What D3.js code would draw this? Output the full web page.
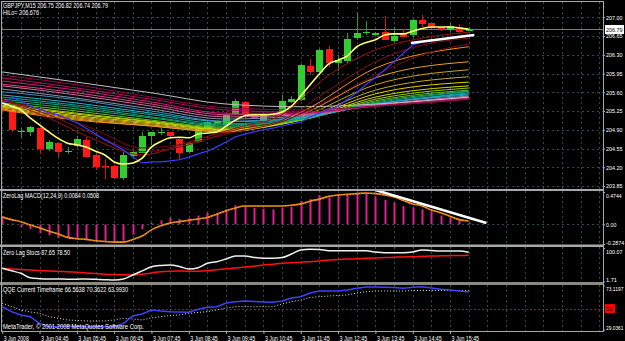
<!DOCTYPE html>
<html>
<head>
<meta charset="utf-8">
<script src="https://cdn.jsdelivr.net/npm/d3@7"></script>
<style>
  body { margin: 0; background: #000; }
  svg { display: block; }
  text { font-family: "Liberation Sans", Arial, sans-serif; font-size: 7px; fill: #fff; }
</style>
</head>
<body>
<script>
// ---- data (bar 0 = 3 Jun 03:45, M15 bars) ----
var open  = [205.40,205.26,204.86,204.86,204.94,204.54,204.66,204.49,204.60,204.71,204.43,204.23,204.22,203.99,204.41,204.47,204.78,204.85,204.85,204.72,204.48,204.67,204.93,205.02,204.99,205.19,205.42,205.18,205.06,205.17,205.19,205.42,205.46,206.10,205.98,206.41,206.15,206.17,206.62,206.71,206.66,206.73,206.56,206.70,206.67,206.95,206.89,206.81,206.76,206.82,206.75];
var high  = [205.45,205.31,204.93,204.97,204.96,204.70,204.68,204.58,204.78,204.77,204.44,204.35,204.24,204.49,204.50,204.85,204.86,204.93,204.86,204.74,204.67,204.95,205.08,205.08,205.20,205.47,205.44,205.20,205.20,205.21,205.55,205.53,206.13,206.22,206.41,206.46,206.30,206.71,207.09,206.94,206.72,207.02,206.82,206.79,206.96,207.04,206.90,206.82,206.89,206.87,206.82];
var low   = [205.25,204.86,204.75,204.78,204.45,204.50,204.40,204.45,204.58,204.39,204.14,203.98,203.98,203.97,204.40,204.46,204.62,204.80,204.76,204.34,204.46,204.66,204.90,205.00,204.97,205.17,205.17,205.10,205.04,205.15,205.17,205.40,205.44,205.92,205.96,206.08,205.99,206.15,206.58,206.67,206.65,206.57,206.54,206.61,206.64,206.82,206.78,206.74,206.73,206.70,206.74];
var close = [205.28,204.88,204.87,204.95,204.54,204.68,204.49,204.50,204.73,204.40,204.20,204.21,203.99,204.42,204.49,204.79,204.85,204.86,204.77,204.46,204.65,204.93,205.05,205.06,205.18,205.44,205.19,205.12,205.18,205.19,205.44,205.47,206.11,205.98,206.39,206.15,206.20,206.59,206.71,206.72,206.70,206.58,206.65,206.63,206.95,206.87,206.79,206.75,206.84,206.73,206.79];

var maYellow = [205.40,205.34,205.27,205.12,204.99,204.86,204.74,204.65,204.62,204.58,204.50,204.43,204.30,204.26,204.28,204.37,204.58,204.68,204.75,204.76,204.75,204.82,204.84,204.86,204.97,205.08,205.16,205.18,205.18,205.19,205.23,205.34,205.53,205.74,205.94,206.13,206.20,206.28,206.45,206.53,206.58,206.67,206.69,206.69,206.74,206.79,206.82,206.82,206.82,206.80,206.78];
var maBlue   = [205.36,205.51,205.44,205.34,205.29,205.21,205.18,205.10,205.03,204.93,204.82,204.71,204.62,204.52,204.39,204.28,204.30,204.30,204.32,204.34,204.39,204.45,204.50,204.58,204.67,204.77,204.82,204.86,204.90,204.93,204.97,205.01,205.04,205.14,205.21,205.27,205.34,205.47,205.59,205.75,205.87,206.02,206.17,206.33,206.48,206.54,206.58,206.59,206.63,206.65,206.67];

// dark red averages, one value every 5 bars
var maRedA = [205.46,205.12,204.71,204.43,204.67,204.93,205.18,205.92,206.39,206.61,206.72];
var maRedB = [205.46,205.18,204.80,204.49,204.62,204.90,205.08,205.64,206.17,206.48,206.61];
var maRedC = [205.46,205.23,204.90,204.56,204.65,204.86,205.05,205.46,205.92,206.30,206.50];

// rainbow ribbon, fast -> slow, values at bars 0,8,16,24,32,40,50
var ribbonBars = [0, 8, 16, 24, 32, 40, 50];
var ribbon = [
  [205.27,205.08,204.97,204.86,205.23,206.05,206.45],
  [205.29,205.10,204.97,204.86,205.18,205.87,206.17],
  [205.31,205.12,204.99,204.88,205.14,205.74,206.02],
  [205.33,205.14,205.01,204.88,205.10,205.64,205.89],
  [205.34,205.16,205.03,204.90,205.08,205.57,205.79],
  [205.36,205.19,205.05,204.91,205.08,205.51,205.72],
  [205.38,205.21,205.06,204.93,205.08,205.47,205.68],
  [205.40,205.25,205.08,204.95,205.08,205.44,205.64],
  [205.44,205.29,205.12,204.97,205.10,205.42,205.62],
  [205.47,205.33,205.14,204.99,205.10,205.40,205.61],
  [205.51,205.36,205.18,205.01,205.12,205.38,205.59],
  [205.55,205.40,205.21,205.05,205.12,205.38,205.57],
  [205.61,205.46,205.25,205.06,205.14,205.38,205.55],
  [205.66,205.49,205.29,205.10,205.16,205.36,205.53],
  [205.72,205.55,205.34,205.14,205.18,205.36,205.51],
  [205.75,205.59,205.38,205.18,205.19,205.36,205.51],
  [205.81,205.64,205.42,205.21,205.21,205.34,205.49],
  [205.87,205.68,205.47,205.27,205.23,205.34,205.47],
  [205.92,205.74,205.51,205.31,205.27,205.34,205.47],
  [205.98,205.79,205.59,205.38,205.33,205.38,205.51]
];
var ribbonColors = ["#ff8c00","#e8a020","#d4a017","#c8a832","#e6d200","#d0e000","#a0d000","#60c030",
                    "#20b050","#10a080","#10a0a0","#20b8c8","#4090c0","#9090b0","#d070a0","#e04090",
                    "#d02070","#b01060","#900848","#c0c0c0"];

var macdHist   = [0.10,0.01,-0.04,-0.07,-0.13,-0.16,-0.20,-0.20,-0.22,-0.22,-0.24,-0.24,-0.26,-0.24,-0.15,-0.07,0.02,0.06,0.10,0.08,0.09,0.13,0.17,0.17,0.22,0.28,0.26,0.24,0.23,0.22,0.24,0.26,0.34,0.37,0.43,0.39,0.43,0.44,0.46,0.46,0.41,0.36,0.32,0.27,0.25,0.22,0.19,0.13,0.10,0.06,0.02];
var macdSignal = [0.11,0.07,0.04,-0.01,-0.05,-0.10,-0.14,-0.19,-0.21,-0.22,-0.24,-0.25,-0.26,-0.26,-0.22,-0.17,-0.08,-0.02,0.02,0.04,0.06,0.08,0.10,0.15,0.20,0.24,0.27,0.27,0.27,0.27,0.27,0.28,0.30,0.34,0.37,0.41,0.43,0.44,0.45,0.46,0.45,0.43,0.40,0.35,0.30,0.27,0.21,0.17,0.12,0.07,0.05];

var stochMain   = [40.5,33,25.8,12.9,10,9,9,8.5,8.5,9,8,7,6.1,9,20.8,33,45.2,49,50.2,46,38.4,42,55.1,59.8,67.8,76.6,76.6,72.2,69.8,69.8,72,82.4,94.2,96.2,95.7,92.1,92.1,92.1,92.1,92.1,88.3,86.3,86.3,86.3,88.3,94.2,92.7,91.3,91.3,91.3,87.65];
var stochSignal = [40.5,38.5,37,35.5,34,32.5,31.5,30.5,29,27,25,23,22,21.5,20.8,23,27,30.5,32,32.5,32,32,33.5,36,39,41.5,44,47,50.2,52.5,55,57,58.1,60,62,64.8,66,67.5,68.5,69.8,71,72,73,74,74.5,75.5,76.5,77,77.5,78,78.5];

var qqeRsi   = [51.9,46.9,43.6,41.9,35.2,31.8,32.0,32.5,32.0,31.8,31.8,31.8,31.8,35.2,42.6,44.6,48.6,47.6,46.9,46.6,46.3,49.3,51.3,51.9,55.6,56.9,57.6,57.1,56.6,56.3,57.6,60.6,61.9,65.6,67.6,67.6,67.6,68.6,70.3,71.6,71.6,71.3,71.1,70.3,71.3,71.9,70.6,69.3,68.6,67.6,66.56];
var qqeTrail = [55.3,52.1,48.6,46.6,45.3,41.9,40.3,38.6,38.1,37.6,37.6,37.6,38.6,40.3,39.6,38.6,40.6,41.9,43.1,43.6,45.3,46.1,46.9,48.6,50.6,51.9,51.9,51.9,51.9,51.9,54.6,56.9,58.6,61.1,61.9,62.6,63.1,63.6,65.6,66.9,67.6,67.6,67.6,67.6,68.1,68.1,68.1,68.1,68.1,68.1,68.1];

var priceTicks = [207.00,206.65,206.30,205.95,205.60,205.25,204.90,204.55,204.20,203.85];
var lastPrice = 206.79;
var macdTicks  = [0.4744, 0.00, -0.2874];
var stochTicks = [100.07, 1.71];
var qqeTicks   = [73.1197, 29.0361];
var qqeLevel   = 50;
var dateLabels = ["3 Jun 2008","3 Jun 04:45","3 Jun 05:45","3 Jun 06:45","3 Jun 07:45","3 Jun 08:45","3 Jun 09:45",
                  "3 Jun 10:45","3 Jun 11:45","3 Jun 12:45","3 Jun 13:45","3 Jun 14:45","3 Jun 15:45"];
// hand drawn trend lines: [bar, value]
var trendMain = [[43.8, 206.52], [50.6, 206.67]];
var trendMacd = [[40.0, 0.504], [51.9, 0.02]];

// ---- layout ----
var W = 625, H = 341, left = 2, right = 603;
var svg = d3.select("body").append("svg").attr("width", W).attr("height", H);
svg.append("rect").attr("width", W).attr("height", H).attr("fill", "#000");

var x = d3.scaleLinear().domain([0, 50]).range([2.2, 468.7]);
var yMain  = d3.scaleLinear().domain([203.85, 207.00]).range([186, 17.3]);
var yMacd  = d3.scaleLinear().domain([-0.2874, 0.4744]).range([244, 192]);
var yStoch = d3.scaleLinear().domain([1.71, 100.07]).range([281.5, 248]);
var yQqe   = d3.scaleLinear().domain([29.0361, 73.1197]).range([329.5, 285.5]);

// squeeze text into the narrow pixel font width of the original
function fit(sel, perChar) {
  sel.each(function () {
    var n = this.textContent.length;
    d3.select(this).attr("textLength", n * perChar).attr("lengthAdjust", "spacingAndGlyphs");
  });
}

var panels = [
  {id: "pMain",  top: 2,     bottom: 189},
  {id: "pMacd",  top: 191,   bottom: 245},
  {id: "pStoch", top: 247,   bottom: 282.5},
  {id: "pQqe",   top: 284.5, bottom: 331}
];
var defs = svg.append("defs");
panels.forEach(function (p) {
  defs.append("clipPath").attr("id", p.id)
    .append("rect").attr("x", left).attr("y", p.top).attr("width", right - left).attr("height", p.bottom - p.top);
});

var gridColor = "#2e4a4a";
// vertical grid every 2 bars, all panels
var gridBars = d3.range(0, 65, 2);
panels.forEach(function (p) {
  svg.append("g").selectAll("line").data(gridBars).enter().append("line")
    .attr("x1", function (d) { return Math.round(x(d)) + 0.5; })
    .attr("x2", function (d) { return Math.round(x(d)) + 0.5; })
    .attr("y1", p.top).attr("y2", p.bottom)
    .attr("stroke", gridColor).attr("stroke-dasharray", "2,3").attr("shape-rendering", "crispEdges");
});
// horizontal grid in main panel
svg.append("g").selectAll("line").data(priceTicks).enter().append("line")
  .attr("x1", left).attr("x2", right)
  .attr("y1", function (d) { return Math.round(yMain(d)) + 0.5; })
  .attr("y2", function (d) { return Math.round(yMain(d)) + 0.5; })
  .attr("stroke", gridColor).attr("stroke-dasharray", "2,3").attr("shape-rendering", "crispEdges");
// zero line in macd
svg.append("line").attr("x1", left).attr("x2", right)
  .attr("y1", Math.round(yMacd(0)) + 0.5).attr("y2", Math.round(yMacd(0)) + 0.5)
  .attr("stroke", gridColor).attr("stroke-dasharray", "2,3");

// current price line
svg.append("line").attr("x1", left).attr("x2", right)
  .attr("y1", Math.round(yMain(lastPrice)) + 0.5).attr("y2", Math.round(yMain(lastPrice)) + 0.5)
  .attr("stroke", "#7a7a7a").attr("shape-rendering", "crispEdges");

// ---- main panel ----
var main = svg.append("g").attr("clip-path", "url(#pMain)");
var bars = d3.range(open.length);
var up = function (i) { return close[i] >= open[i]; };
var bull = "#33cc33", bear = "#ff1a1a";

main.append("g").selectAll("line").data(bars).enter().append("line")
  .attr("x1", function (i) { return Math.round(x(i)) + 0.5; })
  .attr("x2", function (i) { return Math.round(x(i)) + 0.5; })
  .attr("y1", function (i) { return yMain(high[i]); })
  .attr("y2", function (i) { return yMain(low[i]); })
  .attr("stroke", function (i) { return up(i) ? "#2a9a2a" : "#dd1111"; })
  .attr("shape-rendering", "crispEdges");
main.append("g").selectAll("rect").data(bars).enter().append("rect")
  .attr("x", function (i) { return Math.round(x(i)) - 3; })
  .attr("width", 7)
  .attr("y", function (i) { return Math.round(yMain(Math.max(open[i], close[i]))); })
  .attr("height", function (i) { return Math.max(1, Math.round(Math.abs(yMain(open[i]) - yMain(close[i])))); })
  .attr("fill", function (i) { return up(i) ? bull : bear; })
  .attr("shape-rendering", "crispEdges");

// ribbon
ribbon.forEach(function (vals, k) {
  main.append("path")
    .attr("d", d3.line().x(function (d, j) { return x(ribbonBars[j]); }).y(function (d) { return yMain(d); })
      .curve(d3.curveMonotoneX)(vals))
    .attr("fill", "none").attr("stroke", ribbonColors[k]).attr("stroke-width", 1);
});

// dark red averages
[maRedA, maRedB, maRedC].forEach(function (vals, k) {
  main.append("path")
    .attr("d", d3.line().x(function (d, j) { return x(j * 5); }).y(function (d) { return yMain(d); })
      .curve(d3.curveMonotoneX)(vals))
    .attr("fill", "none").attr("stroke", ["#a01010", "#8b0a1a", "#7a0a10"][k]).attr("stroke-width", 1);
});

var lineBars = function (yS) {
  return d3.line().x(function (d, i) { return x(i); }).y(function (d) { return yS(d); });
};
main.append("path").attr("d", lineBars(yMain)(maBlue))
  .attr("fill", "none").attr("stroke", "#3a3aff").attr("stroke-width", 1.2);
main.append("path").attr("d", lineBars(yMain).curve(d3.curveMonotoneX)(maYellow))
  .attr("fill", "none").attr("stroke", "#ffff70").attr("stroke-width", 1.6);

main.append("line")
  .attr("x1", x(trendMain[0][0])).attr("y1", yMain(trendMain[0][1]))
  .attr("x2", x(trendMain[1][0])).attr("y2", yMain(trendMain[1][1]))
  .attr("stroke", "#fff").attr("stroke-width", 2.5);

svg.append("text").attr("x", 3).attr("y", 7.5).attr("textLength", 105).attr("lengthAdjust", "spacingAndGlyphs")
  .text("GBPJPY,M15 206.75 206.82 206.74 206.79");
svg.append("text").attr("x", 3).attr("y", 14.5).attr("textLength", 36).attr("lengthAdjust", "spacingAndGlyphs")
  .text("HiLo= 206.676");

// ---- MACD panel ----
var pm = svg.append("g").attr("clip-path", "url(#pMacd)");
pm.append("g").selectAll("line").data(bars).enter().append("line")
  .attr("x1", function (i) { return Math.round(x(i)) + 0.5; })
  .attr("x2", function (i) { return Math.round(x(i)) + 0.5; })
  .attr("y1", yMacd(0))
  .attr("y2", function (i) { return yMacd(macdHist[i]); })
  .attr("stroke", "#e0208c").attr("stroke-width", 2);
pm.append("path").attr("d", lineBars(yMacd).curve(d3.curveMonotoneX)(macdSignal))
  .attr("fill", "none").attr("stroke", "#ff9a1a").attr("stroke-width", 1.6);
pm.append("path").attr("d", lineBars(yMacd).curve(d3.curveMonotoneX)(macdSignal))
  .attr("fill", "none").attr("stroke", "#8a4a10").attr("stroke-width", 0.8).attr("stroke-dasharray", "1,2");
pm.append("line")
  .attr("x1", x(trendMacd[0][0])).attr("y1", yMacd(trendMacd[0][1]))
  .attr("x2", x(trendMacd[1][0])).attr("y2", yMacd(trendMacd[1][1]))
  .attr("stroke", "#fff").attr("stroke-width", 2.5);
svg.append("text").attr("x", 3).attr("y", 198).attr("textLength", 96).attr("lengthAdjust", "spacingAndGlyphs")
  .text("ZeroLag MACD(12,24,9) 0.0084 0.0508");

// ---- Stochastic panel ----
var ps = svg.append("g").attr("clip-path", "url(#pStoch)");
ps.append("path").attr("d", lineBars(yStoch).curve(d3.curveMonotoneX)(stochSignal))
  .attr("fill", "none").attr("stroke", "#ff1010").attr("stroke-width", 1.5);
ps.append("path").attr("d", lineBars(yStoch).curve(d3.curveMonotoneX)(stochMain))
  .attr("fill", "none").attr("stroke", "#f0f0f0").attr("stroke-width", 1.5);
svg.append("text").attr("x", 3).attr("y", 254.5).attr("textLength", 67).attr("lengthAdjust", "spacingAndGlyphs")
  .text("Zero Lag Stocs 87.65 78.50");

// ---- QQE panel ----
var pq = svg.append("g").attr("clip-path", "url(#pQqe)");
pq.append("line").attr("x1", left).attr("x2", right)
  .attr("y1", Math.round(yQqe(qqeLevel)) + 0.5).attr("y2", Math.round(yQqe(qqeLevel)) + 0.5)
  .attr("stroke", "#d00000").attr("stroke-dasharray", "2,2");
pq.append("path").attr("d", lineBars(yQqe)(qqeTrail))
  .attr("fill", "none").attr("stroke", "#e0e0e0").attr("stroke-width", 1).attr("stroke-dasharray", "1,2");
pq.append("path").attr("d", lineBars(yQqe)(qqeRsi))
  .attr("fill", "none").attr("stroke", "#4040ff").attr("stroke-width", 1.5);
svg.append("text").attr("x", 3).attr("y", 291.5).attr("textLength", 125).attr("lengthAdjust", "spacingAndGlyphs")
  .text("QQE Current Timeframe 66.5638 70.3622 63.9930");
svg.append("text").attr("x", 3).attr("y", 328.5).attr("textLength", 141).attr("lengthAdjust", "spacingAndGlyphs")
  .text("MetaTrader, \u00a9 2001-2008 MetaQuotes Software Corp.");

// ---- separators and frame ----
var frame = "#a8a8a8";
[[190, 2], [245.8, 2.5], [283.4, 3]].forEach(function (s) {
  svg.append("line").attr("x1", 0).attr("x2", right + 1).attr("y1", s[0]).attr("y2", s[0])
    .attr("stroke", s[1] > 2.6 ? "#8a8a80" : frame).attr("stroke-width", s[1]);
});
svg.append("rect").attr("x", 1.5).attr("y", 1.5).attr("width", right - 1.5).attr("height", 329.5)
  .attr("fill", "none").attr("stroke", frame).attr("shape-rendering", "crispEdges");

// ---- axes (small font so labels fit the 22px strip on the right) ----
function styleAxis(g, size) {
  g.select(".domain").remove();
  g.selectAll(".tick line").attr("stroke", frame);
  g.selectAll(".tick text").attr("fill", "#fff").style("font-family", "Liberation Sans, Arial, sans-serif").style("font-size", size + "px");
}
var axMain = svg.append("g").attr("transform", "translate(" + right + ",0)")
  .call(d3.axisRight(yMain).tickValues(priceTicks).tickFormat(d3.format(".2f")).tickSize(2).tickPadding(1));
styleAxis(axMain, 6);
fit(axMain.selectAll(".tick text"), 2.75);

var edgeShift = function (top, bottom) {
  return function (d) { return d === top ? "0.95em" : (d === bottom ? "0.05em" : "0.32em"); };
};
var axMacd = svg.append("g").attr("transform", "translate(" + right + ",0)")
  .call(d3.axisRight(yMacd).tickValues(macdTicks).tickFormat(function (d) { return d === 0 ? "0.00" : d.toFixed(4); }).tickSize(2).tickPadding(1));
styleAxis(axMacd, 5.5);
axMacd.selectAll(".tick text").attr("dy", edgeShift(0.4744, -0.2874));
fit(axMacd.selectAll(".tick text"), 2.6);

var axStoch = svg.append("g").attr("transform", "translate(" + right + ",0)")
  .call(d3.axisRight(yStoch).tickValues(stochTicks).tickFormat(function (d) { return d.toFixed(2); }).tickSize(2).tickPadding(1));
styleAxis(axStoch, 6);
axStoch.selectAll(".tick text").attr("dy", edgeShift(100.07, 1.71));
fit(axStoch.selectAll(".tick text"), 2.75);

var axQqe = svg.append("g").attr("transform", "translate(" + right + ",0)")
  .call(d3.axisRight(yQqe).tickValues(qqeTicks).tickFormat(function (d) { return d.toFixed(4); }).tickSize(2).tickPadding(1));
styleAxis(axQqe, 5.5);
axQqe.selectAll(".tick text").attr("dy", edgeShift(73.1197, 29.0361));
fit(axQqe.selectAll(".tick text"), 2.5);

// QQE level box and last price box
svg.append("rect").attr("x", right + 2).attr("y", yQqe(qqeLevel) - 4.5).attr("width", 10).attr("height", 9).attr("fill", "#ff0000");
svg.append("text").attr("x", right + 3.5).attr("y", yQqe(qqeLevel) + 2.5).style("fill", "#400000").style("font-size", "6px")
  .attr("textLength", 6).attr("lengthAdjust", "spacingAndGlyphs").text(qqeLevel);
svg.append("rect").attr("x", right + 2).attr("y", Math.round(yMain(lastPrice)) - 4).attr("width", 19).attr("height", 9)
  .attr("fill", "#fff");
svg.append("text").attr("x", right + 3).attr("y", Math.round(yMain(lastPrice)) + 2.5).style("fill", "#000").style("font-size", "6px")
  .attr("textLength", 16.5).attr("lengthAdjust", "spacingAndGlyphs").text(lastPrice.toFixed(2));

// time axis
var dateBars = dateLabels.map(function (d, k) { return k * 4; });
var axTime = svg.append("g").attr("transform", "translate(0,331)")
  .call(d3.axisBottom(x).tickValues(dateBars).tickFormat(function (d, k) { return dateLabels[k]; }).tickSize(3).tickPadding(1));
styleAxis(axTime, 6.5);
axTime.selectAll(".tick text").attr("text-anchor", "start").attr("x", 1).attr("dy", "0.85em");
fit(axTime.selectAll(".tick text"), 2.5);
</script>
</body>
</html>
